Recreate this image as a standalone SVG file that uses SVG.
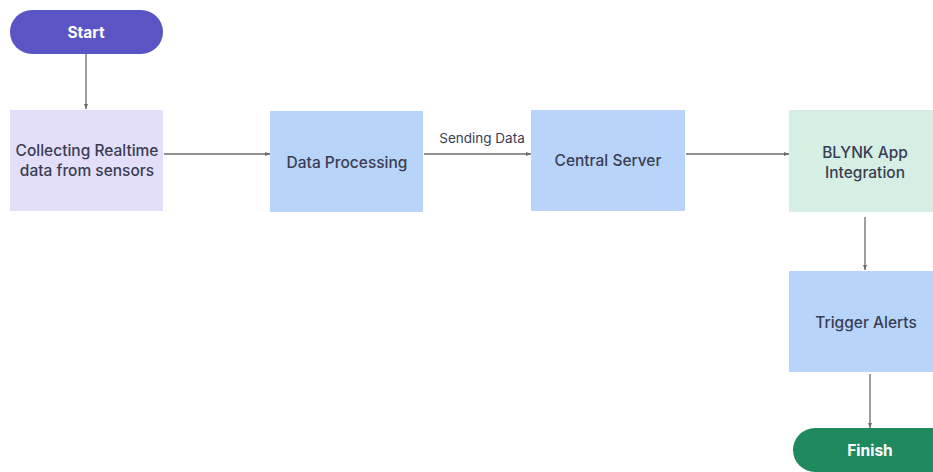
<svg xmlns="http://www.w3.org/2000/svg" width="933" height="472" viewBox="0 0 933 472">
<defs>
<marker id="ah" markerWidth="6" markerHeight="6" refX="5" refY="3" orient="auto" markerUnits="userSpaceOnUse">
<path d="M0,1 L5,3 L0,5 Z" fill="#6b6b6b"/>
</marker>
<style>
.lbl{font-family:Inter,"Liberation Sans",sans-serif;font-size:15.5px;fill:#3a3d52;text-anchor:middle;font-weight:500}
.term{font-family:Inter,"Liberation Sans",sans-serif;font-size:15.5px;fill:#ffffff;text-anchor:middle;font-weight:700}
.edge{stroke:#6b6b6b;stroke-width:1.3;fill:none;marker-end:url(#ah)}
.elbl{font-family:Inter,"Liberation Sans",sans-serif;font-size:13.5px;fill:#3a3d52;text-anchor:middle}
</style>
</defs>
<rect width="933" height="472" fill="#ffffff"/>
<g id="connectors">
<line class="edge" x1="86" y1="54" x2="86" y2="109"/>
<line class="edge" x1="164" y1="154" x2="270" y2="154"/>
<line class="edge" x1="424" y1="154" x2="531" y2="154"/>
<text class="elbl" x="482" y="143">Sending Data</text>
<line class="edge" x1="686" y1="154" x2="789" y2="154"/>
<line class="edge" x1="865" y1="217" x2="865" y2="270"/>
<line class="edge" x1="870" y1="374" x2="870" y2="428"/>
</g>
<g id="start">
<rect x="10" y="10" width="153" height="44" rx="22" fill="#5a54c4"/>
<text class="term" x="86" y="37.5">Start</text>
</g>
<g id="collect">
<rect x="10" y="110" width="153" height="101" fill="#e3defa"/>
<text class="lbl" x="87" y="156">Collecting Realtime</text>
<text class="lbl" x="87" y="176">data from sensors</text>
</g>
<g id="processing">
<rect x="270" y="111" width="153" height="101" fill="#b9d4fb"/>
<text class="lbl" x="347" y="168">Data Processing</text>
</g>
<g id="server">
<rect x="531" y="110" width="154" height="101" fill="#b9d4fb"/>
<text class="lbl" x="608" y="166">Central Server</text>
</g>
<g id="blynk">
<rect x="789" y="110" width="150" height="102" fill="#d5efe5"/>
<text class="lbl" x="865" y="158">BLYNK App</text>
<text class="lbl" x="865" y="178">Integration</text>
</g>
<g id="alerts">
<rect x="789" y="271" width="150" height="101" fill="#b9d4fb"/>
<text class="lbl" x="866" y="328">Trigger Alerts</text>
</g>
<g id="finish">
<rect x="793" y="428" width="160" height="44" rx="22" fill="#1f8a5e"/>
<text class="term" x="870" y="456">Finish</text>
</g>
</svg>
